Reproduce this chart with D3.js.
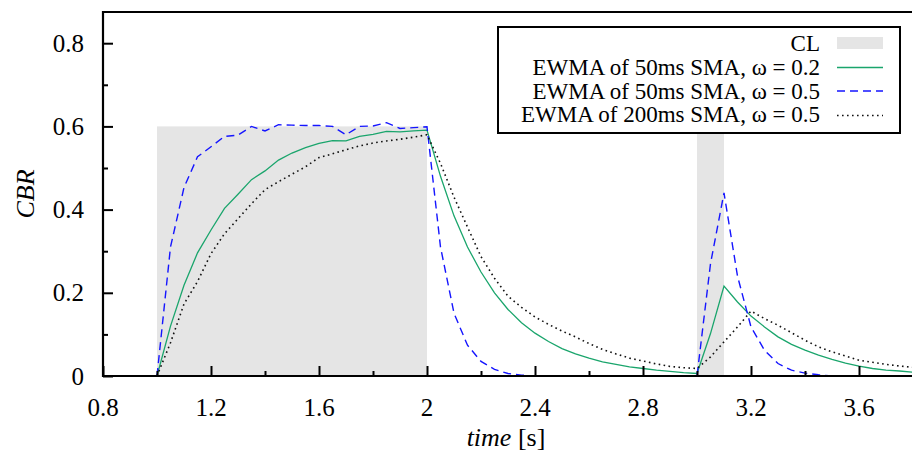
<!DOCTYPE html>
<html>
<head>
<meta charset="utf-8">
<script src="https://cdn.jsdelivr.net/npm/d3@7"></script>
<style>
  body { margin: 0; background: #fff; }
</style>
</head>
<body>
<svg id="chart" width="912" height="461"></svg>
<script>
// sample times [s], 50 ms apart
const time = [
  1.00, 1.05, 1.10, 1.15, 1.20, 1.25, 1.30, 1.35, 1.40, 1.45,
  1.50, 1.55, 1.60, 1.65, 1.70, 1.75, 1.80, 1.85, 1.90, 1.95,
  2.00, 2.05, 2.10, 2.15, 2.20, 2.25, 2.30, 2.35, 2.40, 2.45,
  2.50, 2.55, 2.60, 2.65, 2.70, 2.75, 2.80, 2.85, 2.90, 2.95,
  3.00, 3.05, 3.10, 3.15, 3.20, 3.25, 3.30, 3.35, 3.40, 3.45,
  3.50, 3.55, 3.60, 3.65, 3.70, 3.75, 3.80
];

const ewma50w02 = [
  0.000, 0.120, 0.218, 0.296, 0.351, 0.403, 0.437, 0.472, 0.493, 0.519,
  0.536, 0.549, 0.559, 0.566, 0.565, 0.576, 0.581, 0.588, 0.587, 0.589,
  0.591, 0.480, 0.385, 0.310, 0.250, 0.200, 0.160, 0.128, 0.103, 0.083,
  0.066, 0.053, 0.043, 0.034, 0.028, 0.022, 0.018, 0.014, 0.011, 0.008,
  0.006, 0.102, 0.216, 0.178, 0.144, 0.118, 0.094, 0.076, 0.062, 0.050,
  0.040, 0.031, 0.024, 0.018, 0.014, 0.012, 0.009
];

const ewma50w05 = [
  0.000, 0.310, 0.453, 0.527, 0.551, 0.576, 0.579, 0.600, 0.589, 0.604,
  0.603, 0.602, 0.602, 0.600, 0.580, 0.600, 0.601, 0.609, 0.595, 0.597,
  0.599, 0.310, 0.151, 0.074, 0.035, 0.016, 0.006, 0.002, 0.000, 0.000,
  0.000, 0.000, 0.000, 0.000, 0.000, 0.000, 0.000, 0.000, 0.000, 0.000,
  0.000, 0.270, 0.440, 0.240, 0.118, 0.062, 0.030, 0.014, 0.007, 0.003,
  0.000, 0.000, 0.000, 0.000, 0.000, 0.000, 0.000
];

const ewma200w05 = [
  0.000, 0.080, 0.173, 0.227, 0.294, 0.342, 0.378, 0.414, 0.448, 0.467,
  0.485, 0.503, 0.525, 0.534, 0.544, 0.553, 0.560, 0.565, 0.569, 0.574,
  0.580, 0.511, 0.430, 0.358, 0.287, 0.235, 0.192, 0.165, 0.142, 0.124,
  0.108, 0.094, 0.078, 0.064, 0.053, 0.043, 0.036, 0.029, 0.023, 0.020,
  0.018, 0.046, 0.082, 0.118, 0.156, 0.138, 0.122, 0.104, 0.086, 0.070,
  0.058, 0.048, 0.038, 0.033, 0.028, 0.024, 0.021
];

// congestion (CL) intervals: start, end, level
const clStart = [1.0, 3.0];
const clEnd = [2.0, 3.1];
const clLevel = [0.6, 0.6];

const xTicks = [0.8, 1.0, 1.2, 1.4, 1.6, 1.8, 2.0, 2.2, 2.4, 2.6, 2.8, 3.0, 3.2, 3.4, 3.6, 3.8];
const xLabels = [0.8, 1.2, 1.6, 2.0, 2.4, 2.8, 3.2, 3.6];
const yTicks = [0, 0.1, 0.2, 0.3, 0.4, 0.5, 0.6, 0.7, 0.8];
const yLabels = [0, 0.2, 0.4, 0.6, 0.8];

const legendNames = [
  "CL",
  "EWMA of 50ms SMA, \u03c9 = 0.2",
  "EWMA of 50ms SMA, \u03c9 = 0.5",
  "EWMA of 200ms SMA, \u03c9 = 0.5"
];

const plot = { left: 103, right: 913, top: 12, bottom: 376 };
const serif = '"Liberation Serif"';

const x = d3.scaleLinear().domain([0.8, 3.8]).range([plot.left, plot.right]);
const y = d3.scaleLinear().domain([0, 0.875]).range([plot.bottom, plot.top]);

const svg = d3.select("#chart");

svg.append("defs").append("clipPath").attr("id", "clip")
  .append("rect")
  .attr("x", plot.left).attr("y", plot.top)
  .attr("width", plot.right - plot.left).attr("height", plot.bottom - plot.top);

const g = svg.append("g").attr("clip-path", "url(#clip)");

// CL shading
g.selectAll("rect.cl")
  .data(clStart)
  .join("rect")
  .attr("class", "cl")
  .attr("x", (d) => x(d))
  .attr("width", (d, i) => x(clEnd[i]) - x(d))
  .attr("y", (d, i) => y(clLevel[i]))
  .attr("height", (d, i) => y(0) - y(clLevel[i]))
  .attr("fill", "#e5e5e5");

const series = [
  { values: ewma50w02, stroke: "#1aa56c", dash: null, width: 1.3 },
  { values: ewma50w05, stroke: "#1515ff", dash: "8,5", width: 1.4 },
  { values: ewma200w05, stroke: "#111", dash: "1.6,3.4", width: 1.6 }
];

const line = d3.line()
  .x((d) => x(d[0]))
  .y((d) => y(d[1]));

series.forEach((s) => {
  g.append("path")
    .datum(time.map((t, i) => [t, s.values[i]]))
    .attr("fill", "none")
    .attr("stroke", s.stroke)
    .attr("stroke-width", s.width)
    .attr("stroke-dasharray", s.dash)
    .attr("d", line);
});

// axes with inward ticks
const xAxis = d3.axisBottom(x)
  .tickValues(xTicks)
  .tickSizeInner(0)
  .tickSizeOuter(0)
  .tickFormat("");

const ax = svg.append("g").attr("transform", `translate(0,${plot.bottom})`).call(xAxis);
ax.select(".domain").remove();
ax.selectAll(".tick line")
  .attr("y2", (d) => (xLabels.includes(d) ? -10 : -5))
  .attr("stroke", "#000")
  .attr("stroke-width", 2);

const yAxis = d3.axisLeft(y)
  .tickValues(yTicks)
  .tickSizeInner(0)
  .tickSizeOuter(0)
  .tickFormat("");

const ay = svg.append("g").attr("transform", `translate(${plot.left},0)`).call(yAxis);
ay.select(".domain").remove();
ay.selectAll(".tick line")
  .attr("x2", (d) => (yLabels.some((v) => Math.abs(v - d) < 1e-9) ? 10 : 5))
  .attr("stroke", "#000")
  .attr("stroke-width", 2);

// frame
svg.append("path")
  .attr("d", `M${plot.right},${plot.top}H${plot.left}V${plot.bottom}H${plot.right}`)
  .attr("fill", "none")
  .attr("stroke", "#000")
  .attr("stroke-width", 2.2);

// tick labels
svg.append("g").selectAll("text")
  .data(xLabels)
  .join("text")
  .attr("x", (d) => x(d))
  .attr("y", 416)
  .attr("text-anchor", "middle")
  .attr("font-size", 25)
  .style("font-family", serif)
  .text((d) => d3.format("~g")(d));

svg.append("g").selectAll("text")
  .data(yLabels)
  .join("text")
  .attr("x", 84)
  .attr("y", (d) => y(d) + 8.5)
  .attr("text-anchor", "end")
  .attr("font-size", 25)
  .style("font-family", serif)
  .text((d) => d3.format("~g")(d));

// axis titles
const xt = svg.append("text")
  .attr("x", 506)
  .attr("y", 446)
  .attr("text-anchor", "middle")
  .attr("font-size", 26)
  .style("font-family", serif);
xt.append("tspan").style("font-style", "italic").text("time");
xt.append("tspan").text(" [s]");

svg.append("text")
  .attr("transform", "translate(34,194) rotate(-90)")
  .attr("text-anchor", "middle")
  .attr("font-size", 26)
  .style("font-family", serif)
  .style("font-style", "italic")
  .text("CBR");

// legend
const lg = svg.append("g");
lg.append("rect")
  .attr("x", 498).attr("y", 27)
  .attr("width", 402).attr("height", 106)
  .attr("fill", "#fff")
  .attr("stroke", "#000")
  .attr("stroke-width", 2);

const rowBase = [51, 75, 98.5, 122];
const rowMid = [43, 67.5, 91, 115.5];

lg.selectAll("text")
  .data(legendNames)
  .join("text")
  .attr("x", 820)
  .attr("y", (d, i) => rowBase[i])
  .attr("text-anchor", "end")
  .attr("font-size", 23)
  .style("font-family", serif)
  .text((d) => d);

lg.append("rect")
  .attr("x", 837).attr("y", 37)
  .attr("width", 46).attr("height", 12)
  .attr("fill", "#e5e5e5");

series.forEach((s, i) => {
  lg.append("line")
    .attr("x1", 837).attr("x2", 883)
    .attr("y1", rowMid[i + 1]).attr("y2", rowMid[i + 1])
    .attr("stroke", s.stroke)
    .attr("stroke-width", s.width)
    .attr("stroke-dasharray", s.dash);
});
</script>
</body>
</html>
